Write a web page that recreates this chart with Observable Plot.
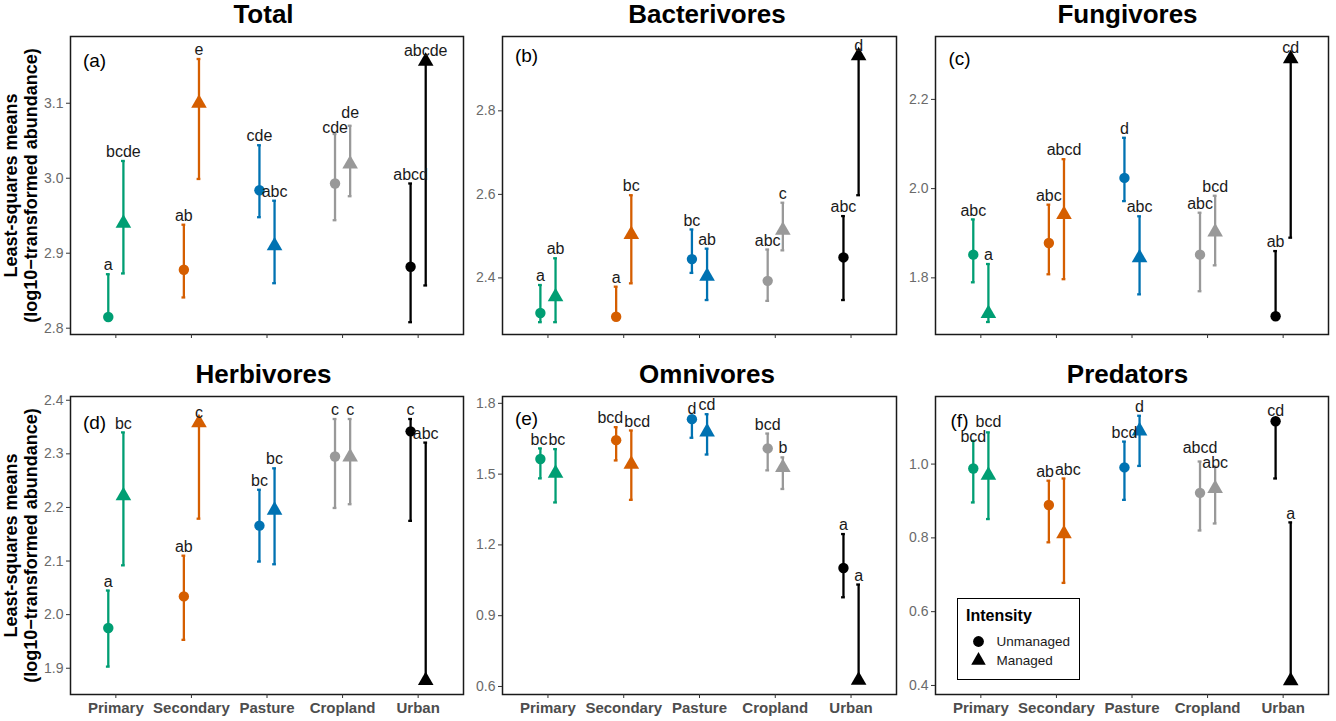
<!DOCTYPE html>
<html><head><meta charset="utf-8">
<script src="https://cdn.jsdelivr.net/npm/d3@7"></script>
<script src="https://cdn.jsdelivr.net/npm/@observablehq/plot@0.6"></script>
<style>
body{margin:0;background:#fff;font-family:"Liberation Sans",Arial,sans-serif;}
#root{position:relative;width:1336px;height:721px;overflow:hidden;background:#fff;}
.cell{position:absolute;}
.title{position:absolute;font-weight:bold;font-size:26px;line-height:1;text-align:center;color:#000;}
.legend{position:absolute;box-sizing:border-box;border:1.5px solid #000;background:#fff;}
.legend .lt{position:absolute;left:8px;top:9px;font-weight:bold;font-size:16px;line-height:1;}
.legend .ls{position:absolute;left:0;top:32px;}
</style></head><body><div id="root"></div>
<script>
const categories = ["Primary", "Secondary", "Pasture", "Cropland", "Urban"];
const intensities = ["Unmanaged", "Managed"];
const palette = ["#009E73", "#D55E00", "#0072B2", "#999999", "#000000"];
const panelTitles = ["Total", "Bacterivores", "Fungivores", "Herbivores", "Omnivores", "Predators"];
const panelTags = ["(a)", "(b)", "(c)", "(d)", "(e)", "(f)"];
const yLabel = "Least-squares means\n(log10\u2212transformed abundance)";

// Each 10-value array: Primary U, Primary M, Secondary U, Secondary M, Pasture U, Pasture M, Cropland U, Cropland M, Urban U, Urban M
const totalMean    = [2.815, 2.940, 2.878, 3.100, 2.984, 2.910, 2.993, 3.019, 2.882, 3.156];
const totalLower   = [2.812, 2.873, 2.841, 2.999, 2.948, 2.860, 2.944, 2.976, 2.808, 2.857];
const totalUpper   = [2.872, 3.023, 2.938, 3.159, 3.044, 2.970, 3.059, 3.070, 2.993, 3.158];
const totalLetters = ["a", "bcde", "ab", "e", "cde", "abc", "cde", "de", "abcd", "abcde"];
const totalTicks   = [2.8, 2.9, 3.0, 3.1];
const totalDomain  = [2.7916, 3.189];

const bactMean    = [2.316, 2.355, 2.307, 2.504, 2.445, 2.404, 2.393, 2.514, 2.449, 2.932];
const bactLower   = [2.294, 2.294, 2.300, 2.387, 2.412, 2.347, 2.345, 2.466, 2.347, 2.598];
const bactUpper   = [2.383, 2.447, 2.379, 2.598, 2.516, 2.470, 2.468, 2.580, 2.548, 2.935];
const bactLetters = ["a", "ab", "a", "bc", "bc", "ab", "abc", "c", "abc", "d"];
const bactTicks   = [2.4, 2.6, 2.8];
const bactDomain  = [2.2645, 2.978];

const fungMean    = [1.852, 1.720, 1.878, 1.942, 2.024, 1.845, 1.852, 1.903, 1.714, 2.291];
const fungLower   = [1.790, 1.701, 1.808, 1.797, 1.972, 1.763, 1.770, 1.828, 1.712, 1.890];
const fungUpper   = [1.931, 1.831, 1.964, 2.066, 2.114, 1.938, 1.946, 1.984, 1.860, 2.295];
const fungLetters = ["abc", "a", "abc", "abcd", "d", "abc", "abc", "bcd", "ab", "cd"];
const fungTicks   = [1.8, 2.0, 2.2];
const fungDomain  = [1.673, 2.341];

const herbMean    = [1.975, 2.222, 2.034, 2.358, 2.166, 2.195, 2.295, 2.294, 2.342, 1.877];
const herbLower   = [1.903, 2.092, 1.953, 2.179, 2.099, 2.094, 2.199, 2.206, 2.175, 1.875];
const herbUpper   = [2.045, 2.340, 2.110, 2.360, 2.233, 2.273, 2.365, 2.365, 2.365, 2.321];
const herbLetters = ["a", "bc", "ab", "c", "bc", "bc", "c", "c", "c", "abc"];
const herbTicks   = [1.9, 2.0, 2.1, 2.2, 2.3, 2.4];
const herbDomain  = [1.851, 2.407];

const omniMean    = [1.564, 1.504, 1.644, 1.542, 1.733, 1.679, 1.609, 1.528, 1.102, 0.626];
const omniLower   = [1.482, 1.380, 1.558, 1.391, 1.654, 1.583, 1.516, 1.437, 0.978, 0.622];
const omniUpper   = [1.609, 1.606, 1.699, 1.685, 1.740, 1.754, 1.672, 1.571, 1.246, 1.032];
const omniLetters = ["bc", "bc", "bcd", "bcd", "d", "cd", "bcd", "b", "a", "a"];
const omniTicks   = [0.6, 0.9, 1.2, 1.5, 1.8];
const omniDomain  = [0.566, 1.829];

const predMean    = [0.988, 0.970, 0.889, 0.811, 0.991, 1.090, 0.922, 0.934, 1.116, 0.413];
const predLower   = [0.896, 0.851, 0.788, 0.678, 0.903, 0.995, 0.820, 0.839, 0.961, 0.410];
const predUpper   = [1.063, 1.086, 0.955, 0.961, 1.061, 1.131, 1.007, 0.993, 1.120, 0.842];
const predLetters = ["bcd", "bcd", "ab", "abc", "bcd", "d", "abcd", "abc", "cd", "a"];
const predTicks   = [0.4, 0.6, 0.8, 1.0];
const predDomain  = [0.3755, 1.1832];

const panelData = [
  {mean: totalMean, lower: totalLower, upper: totalUpper, letters: totalLetters, ticks: totalTicks, domain: totalDomain},
  {mean: bactMean, lower: bactLower, upper: bactUpper, letters: bactLetters, ticks: bactTicks, domain: bactDomain},
  {mean: fungMean, lower: fungLower, upper: fungUpper, letters: fungLetters, ticks: fungTicks, domain: fungDomain},
  {mean: herbMean, lower: herbLower, upper: herbUpper, letters: herbLetters, ticks: herbTicks, domain: herbDomain},
  {mean: omniMean, lower: omniLower, upper: omniUpper, letters: omniLetters, ticks: omniTicks, domain: omniDomain},
  {mean: predMean, lower: predLower, upper: predUpper, letters: predLetters, ticks: predTicks, domain: predDomain}
];

// layout
const cols = [{left: 0, ml: 70, width: 467, mr: 4, tdx: -3}, {left: 467, ml: 35, width: 433, mr: 4, tdx: 8}, {left: 900, ml: 35, width: 436, mr: 8, tdx: -4}];
const rows = [{top: 26, mt: 10, height: 318, mb: 10, xlabels: false}, {top: 386, mt: 10, height: 340, mb: 32, xlabels: true}];
const dodge = 0.1;
const tagDx = 24;
const ctx = document.createElement("canvas").getContext("2d");
const root = document.getElementById("root");

// simple label repulsion (in pixels) around a fixed obstacle; returns positions in data units
function repel(data, xs, ys, tag, tagY) {
  ctx.font = "16px 'Liberation Sans', Arial, sans-serif";
  const L = data.map(d => ({x: xs(d.x), y: ys(d.hi) - 9, w: ctx.measureText(d.letter).width, h: 14}));
  ctx.font = "19px 'Liberation Sans', Arial, sans-serif";
  const fixed = {x: xs.range()[0] + tagDx, y: ys(tagY), w: ctx.measureText(tag).width, h: 14};
  const push = (a, b, fixedB) => {
    const ox = (a.w + b.w) / 2 + 1 - Math.abs(a.x - b.x);
    const oy = (a.h + b.h) / 2 + 1 - Math.abs(a.y - b.y);
    if (ox <= 0 || oy <= 0) return false;
    const k = fixedB ? 1 : 0.5;
    if (ox < oy) {
      const s = a.x <= b.x ? -1 : 1;
      a.x += s * ox * k; if (!fixedB) b.x -= s * ox * k;
    } else {
      const s = a.y <= b.y ? -1 : 1;
      a.y += s * oy * k; if (!fixedB) b.y -= s * oy * k;
    }
    return true;
  };
  for (let it = 0; it < 80; it++) {
    let moved = false;
    for (let i = 0; i < L.length; i++) {
      if (push(L[i], fixed, true)) moved = true;
      for (let j = i + 1; j < L.length; j++) if (push(L[i], L[j], false)) moved = true;
    }
    if (!moved) break;
  }
  L.forEach((l, i) => { data[i].lx = xs.invert(l.x); data[i].ly = ys.invert(l.y); });
}

panelData.forEach((p, k) => {
  const col = cols[k % 3], row = rows[Math.floor(k / 3)];
  const data = [];
  categories.forEach((c, i) => intensities.forEach((s, j) => {
    const n = i * 2 + j;
    data.push({cat: c, intensity: s, x: i + 1 + (j === 0 ? -dodge : dodge),
      mean: p.mean[n], lo: p.lower[n], hi: p.upper[n], letter: p.letters[n]});
  }));
  const tagY = d3.max(p.mean);
  const xs = d3.scaleLinear([0.4, 5.6], [col.ml, col.width - col.mr]);
  const ys = d3.scaleLinear(p.domain, [row.height - row.mb, row.mt]);
  repel(data, xs, ys, panelTags[k], tagY);
  const marks = [
    Plot.frame({stroke: "#1a1a1a", strokeWidth: 1.5}),
    Plot.axisY(p.ticks, {tickSize: 4, tickPadding: 3, fontSize: 14, fill: "#6a6a6a", stroke: "#333", tickFormat: d => d.toFixed(1), label: null}),
    Plot.axisX([1, 2, 3, 4, 5], {tickSize: 4, tickPadding: 4, fontSize: 15, fontWeight: "bold", fill: "#4D4D4D", stroke: "#333",
      tickFormat: d => row.xlabels ? categories[d - 1] : "", label: null}),
    Plot.ruleX(data, {x: "x", y1: "lo", y2: "hi", stroke: "cat", strokeWidth: 2.3}),
    Plot.ruleY(data, {y: "hi", x1: d => d.x - 0.025, x2: d => d.x + 0.025, stroke: "cat", strokeWidth: 2.3}),
    Plot.ruleY(data, {y: "lo", x1: d => d.x - 0.025, x2: d => d.x + 0.025, stroke: "cat", strokeWidth: 2.3}),
    Plot.dot(data.filter(d => d.intensity === "Unmanaged"), {x: "x", y: "mean", fill: "cat", r: 5.2, symbol: "circle"}),
    Plot.dot(data.filter(d => d.intensity === "Managed"), {x: "x", y: "mean", fill: "cat", r: 5.8, symbol: "triangle"}),
    Plot.text(data, {x: "lx", y: "ly", text: "letter", fontSize: 16, fill: "#1a1a1a", lineAnchor: "middle"}),
    Plot.text([panelTags[k]], {text: d => d, y: () => tagY, frameAnchor: "left", textAnchor: "middle", dx: tagDx, fontSize: 19, fill: "#000", lineAnchor: "middle"})
  ];
  if (k % 3 === 0) {
    marks.push(Plot.text([yLabel], {text: d => d, frameAnchor: "left", textAnchor: "middle", dx: -50, rotate: -90, fontSize: 18, fontWeight: "bold", lineHeight: 1.1, fill: "#000", lineAnchor: "middle"}));
  }
  const svg = Plot.plot({
    width: col.width, height: row.height,
    marginLeft: col.ml, marginRight: col.mr, marginTop: row.mt, marginBottom: row.mb,
    x: {domain: [0.4, 5.6], axis: null},
    y: {domain: p.domain, axis: null},
    color: {domain: categories, range: palette},
    style: {fontFamily: "Liberation Sans, Arial, sans-serif", background: "transparent", overflow: "visible"},
    marks
  });
  const cell = document.createElement("div");
  cell.className = "cell";
  cell.style.left = col.left + "px";
  cell.style.top = row.top + "px";
  cell.appendChild(svg);
  root.appendChild(cell);

  const t = document.createElement("div");
  t.className = "title";
  t.textContent = panelTitles[k];
  t.style.left = (col.left + col.ml + col.tdx) + "px";
  t.style.width = (col.width - col.ml - col.mr) + "px";
  t.style.top = (row.top + row.mt - 35) + "px";
  root.appendChild(t);
});

// legend
const legend = document.createElement("div");
legend.className = "legend";
legend.style.left = "957px"; legend.style.top = "598px";
legend.style.width = "123px"; legend.style.height = "82px";
const lt = document.createElement("div");
lt.className = "lt"; lt.textContent = "Intensity";
legend.appendChild(lt);
const ls = document.createElement("div");
ls.className = "ls";
ls.appendChild(Plot.plot({
  width: 118, height: 39, margin: 0,
  x: {domain: [0, 1], axis: null},
  y: {type: "point", domain: intensities, padding: 0.5, axis: null},
  symbol: {domain: intensities, range: ["circle", "triangle"]},
  style: {fontFamily: "Liberation Sans, Arial, sans-serif", background: "transparent", overflow: "visible"},
  marks: [
    Plot.dot(intensities, {x: () => 0, y: d => d, symbol: d => d, fill: "#000", r: 5.4, dx: 20}),
    Plot.text(intensities, {x: () => 0, y: d => d, text: d => d, dx: 38, textAnchor: "start", fontSize: 13.5, fill: "#1a1a1a"})
  ]
}));
legend.appendChild(ls);
root.appendChild(legend);
</script></body></html>
